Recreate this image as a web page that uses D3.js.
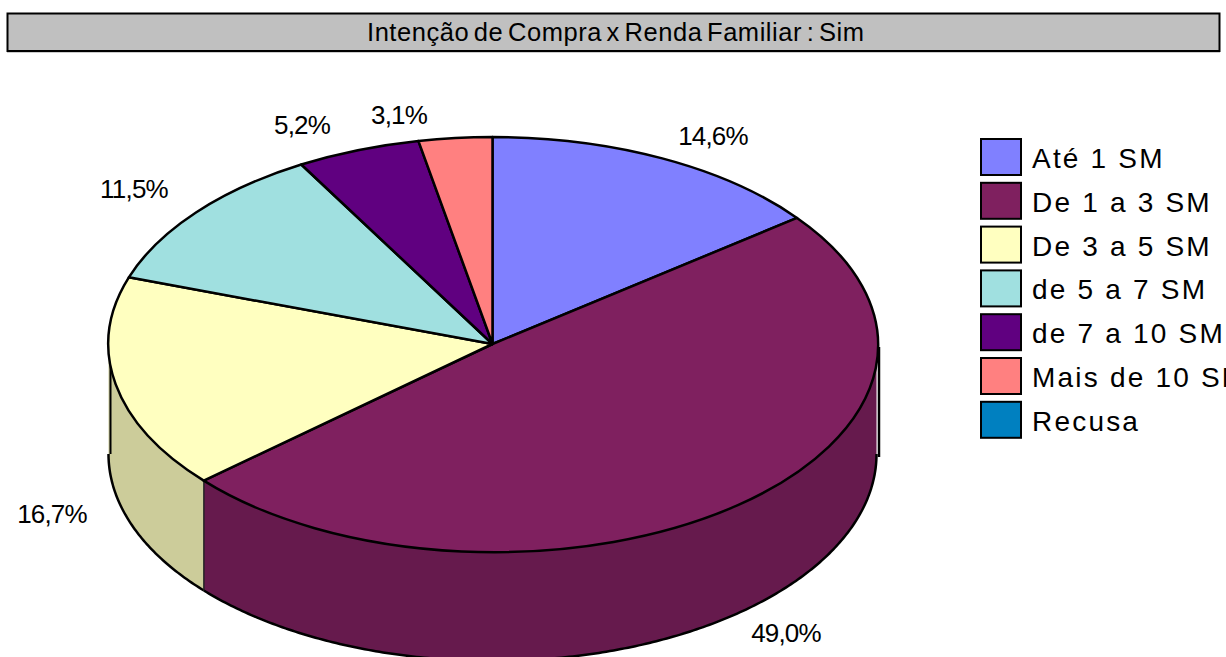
<!DOCTYPE html>
<html><head><meta charset="utf-8">
<script src="https://cdn.jsdelivr.net/npm/d3@7/dist/d3.min.js"></script>
<style>html,body{margin:0;padding:0;background:#fff;overflow:hidden}svg{display:block}text{font-family:"Liberation Sans",Arial,sans-serif;fill:#000}</style>
</head><body><svg id="c" width="1226" height="657"></svg>
<script>
const titleText = "Intenção de Compra x Renda Familiar : Sim";
const categories = ["Até 1 SM","De 1 a 3 SM","De 3 a 5 SM","de 5 a 7 SM","de 7 a 10 SM","Mais de 10 SM","Recusa"];
const values = [14.6,49.0,16.7,11.5,5.2,3.1,0];
const colors = ["#8080FF","#7F205F","#FFFFC0","#A0E0E0","#600080","#FF8080","#0080C0"];
const sideColors = ["#6666CC","#661A4D","#CCCC9A","#80B3B3","#4D0066","#CC6666","#006699"];
// layout of the free-floating value labels (centre x, baseline y)
const labelLayout = [[713,145],[786,642],[52,523],[134,198],[302,134],[399,124]];

const svg = d3.select("#c");
const cx=492.5, cy=344, rx=384, ry=207, depth=110;
const x = d3.scaleLinear().domain([-1,1]).range([cx-rx,cx+rx]);
const y = d3.scaleLinear().domain([-1,1]).range([cy-ry,cy+ry]);
const fmt = v => v.toFixed(1).replace(".",",")+"%";

// title bar
svg.append("rect").attr("x",7).attr("y",14).attr("width",1213).attr("height",38.5).attr("fill","#999");
svg.append("rect").attr("x",7.5).attr("y",13.5).attr("width",1212).attr("height",37.5).attr("fill","#C0C0C0").attr("stroke","#000").attr("stroke-width",2);
svg.append("text").attr("x",615.5).attr("y",41).attr("text-anchor","middle").attr("font-size",25.5)
  .attr("word-spacing",-3).attr("textLength",497).attr("lengthAdjust","spacing").text(titleText);

const arcs = d3.pie().sort(null).value(d=>d)(values);

// side wall
const rim = d3.line().x(a=>x(Math.sin(a))).y(a=>y(-Math.cos(a)));
const rimLow = d3.line().x(a=>x(Math.sin(a))).y(a=>y(-Math.cos(a))+depth);
arcs.forEach((d,i)=>{
  const a0=Math.max(d.startAngle,Math.PI/2), a1=Math.min(d.endAngle,Math.PI*1.5);
  if(a1<=a0) return;
  const as=d3.range(a0,a1,0.01).concat([a1]);
  const topPath=rim(as), lowPath=rimLow(as.slice().reverse());
  svg.append("path").attr("d",topPath+"L"+lowPath.slice(1)+"Z").attr("fill",sideColors[i]).attr("stroke","none");
  svg.append("path").attr("d",rimLow(as)).attr("fill","none").attr("stroke","#000").attr("stroke-width",2.5);
  if(a0>Math.PI/2+1e-6){
    svg.append("line").attr("x1",x(Math.sin(a0))).attr("x2",x(Math.sin(a0))).attr("y1",y(-Math.cos(a0))).attr("y2",y(-Math.cos(a0))+depth).attr("stroke","#222").attr("stroke-width",1.5);
  }
  if(a1>=Math.PI*1.5-1e-6){
    svg.append("line").attr("x1",x(-1)+2).attr("x2",x(-1)+2).attr("y1",cy).attr("y2",cy+depth).attr("stroke","#000").attr("stroke-width",2);
  }
});
// right edge line, offset from the body as in the source
svg.append("line").attr("x1",x(1)+2.5).attr("x2",x(1)+2.5).attr("y1",cy+3).attr("y2",cy+depth+3).attr("stroke","#000").attr("stroke-width",2.5);

// top face
const arc = d3.arc().innerRadius(0).outerRadius(1);
const g = svg.append("g").attr("transform",`translate(${cx},${cy}) scale(${rx},${ry})`);
g.selectAll("path").data(arcs.filter(d=>d.value>0)).join("path")
  .attr("d",arc).attr("fill",(d)=>colors[d.index]).attr("stroke","#000")
  .attr("stroke-width",2.5).attr("vector-effect","non-scaling-stroke").attr("stroke-linejoin","round");

// value labels
svg.append("g").selectAll("text").data(values.filter(v=>v>0)).join("text")
  .attr("x",(d,i)=>labelLayout[i][0]).attr("y",(d,i)=>labelLayout[i][1])
  .attr("text-anchor","middle").attr("font-size",26).attr("letter-spacing",-0.8).text(fmt);

// legend
const ly = d3.scaleBand().domain(categories).range([138,444.6]).paddingInner(0);
const lg = svg.append("g").selectAll("g").data(categories).join("g")
  .attr("transform",d=>`translate(0,${ly(d)})`);
lg.append("rect").attr("x",981).attr("y",1).attr("width",40).attr("height",36)
  .attr("fill",(d,i)=>colors[i]).attr("stroke","#000").attr("stroke-width",2);
lg.append("text").attr("x",1032).attr("y",30).attr("font-size",28).attr("letter-spacing",2.2).text(d=>d);
</script></body></html>
